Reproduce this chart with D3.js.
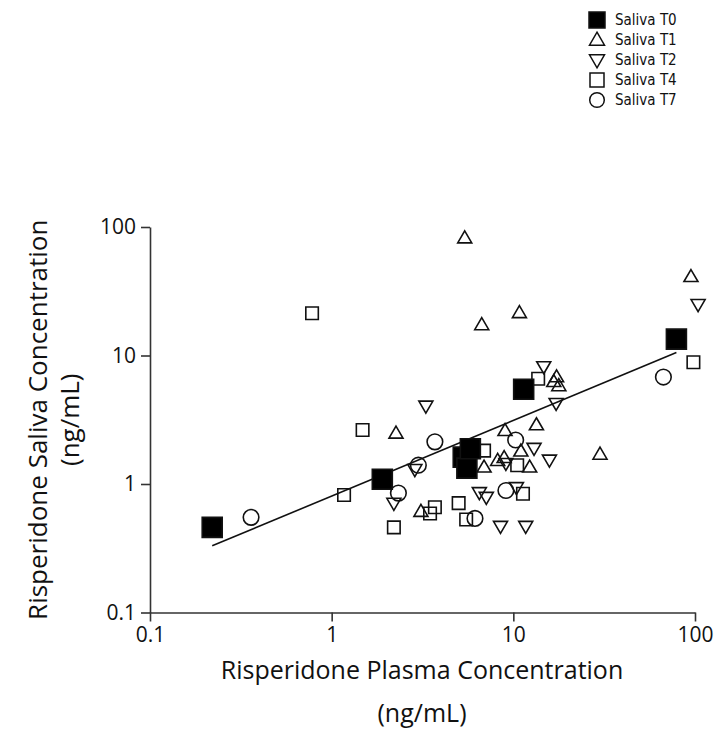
<!DOCTYPE html>
<html>
<head>
<meta charset="utf-8">
<script src="https://cdn.jsdelivr.net/npm/d3@7"></script>
<style>
  body { margin: 0; background: #fff; }
  text { font-family: "Open Sans", Lato, sans-serif; fill: #111; }
  .legend text { font-family: "Liberation Sans Narrow", "DejaVu Sans Condensed", sans-serif; }
</style>
</head>
<body>
<svg width="724" height="749"></svg>
<script>
// values: [plasma, saliva] in ng/mL
const salivaT0 = [[0.22, 0.46], [1.9, 1.09], [5.3, 1.62], [5.55, 1.33], [5.8, 1.88], [11.4, 5.46], [79, 13.4]];
const salivaT1 = [[5.4, 82], [95, 41], [10.8, 21.5], [6.7, 17.3], [16.7, 6.25], [17.3, 6.8], [17.8, 5.8],
  [2.26, 2.48], [3.1, 0.61], [13.4, 2.88], [9.0, 2.6], [11.0, 1.8], [6.9, 1.35], [8.2, 1.52],
  [8.9, 1.6], [12.3, 1.35], [30, 1.7]];
const salivaT2 = [[3.3, 4.05], [104, 25], [14.7, 8.2], [17.2, 4.25], [2.87, 1.3], [2.2, 0.71], [13.0, 1.9],
  [9.1, 1.45], [15.8, 1.54], [6.5, 0.86], [7.1, 0.79], [10.4, 0.94], [8.5, 0.47], [11.7, 0.47]];
const salivaT4 = [[0.78, 21.3], [98, 8.85], [13.7, 6.6], [1.48, 2.63], [1.17, 0.82], [2.2, 0.46], [3.48, 0.59],
  [3.7, 0.66], [6.9, 1.82], [10.5, 1.4], [11.3, 0.84], [5.0, 0.71], [5.5, 0.53]];
const salivaT7 = [[67, 6.8], [0.36, 0.55], [3.7, 2.13], [3.0, 1.4], [2.33, 0.85], [10.3, 2.2], [9.1, 0.89], [6.15, 0.54]];

const seriesNames = ['Saliva T0', 'Saliva T1', 'Saliva T2', 'Saliva T4', 'Saliva T7'];
const tickValues = [0.1, 1, 10, 100];

const svg = d3.select('svg');

const x = d3.scaleLog().domain([0.1, 100]).range([150, 695]);
const y = d3.scaleLog().domain([0.1, 100]).range([612.5, 227]);

// marker shapes
const sq = s => `M${-s/2},${-s/2}h${s}v${s}h${-s}Z`;
const triUp = (w, h) => `M0,${-h*0.6}L${w/2},${h*0.4}L${-w/2},${h*0.4}Z`;
const triDown = (w, h) => `M0,${h*0.6}L${w/2},${-h*0.4}L${-w/2},${-h*0.4}Z`;
const circ = r => `M${r},0A${r},${r} 0 1,1 ${-r},0A${r},${r} 0 1,1 ${r},0Z`;

const series = [
  { data: salivaT0, path: sq(20), fill: '#000', lpath: sq(16) },
  { data: salivaT1, path: triUp(14, 12), fill: 'none', lpath: triUp(15, 13) },
  { data: salivaT2, path: triDown(14, 12), fill: 'none', lpath: triDown(15, 13) },
  { data: salivaT4, path: sq(12.5), fill: 'none', lpath: sq(14) },
  { data: salivaT7, path: circ(7.8), fill: 'none', lpath: circ(7.3) }
];

// axes
const xAxis = svg.append('g')
    .attr('transform', `translate(0, ${y(0.1)})`)
    .call(d3.axisBottom(x).tickValues(tickValues).tickSize(9).tickSizeOuter(0).tickPadding(6)
      .tickFormat(d3.format('~g')));
const yAxis = svg.append('g')
    .attr('transform', `translate(${x(0.1)}, 0)`)
    .call(d3.axisLeft(y).tickValues(tickValues).tickSize(9).tickSizeOuter(0).tickPadding(5)
      .tickFormat(d3.format('~g')));

[xAxis, yAxis].forEach(a => {
  a.select('.domain').attr('stroke', '#333').attr('stroke-width', 1.6);
  a.selectAll('.tick line').attr('stroke', '#333').attr('stroke-width', 1.6);
  a.selectAll('.tick text').style('font-size', '21px').style('font-family', '"Open Sans", sans-serif').attr('fill', '#111');
});

// regression line (log-log) over the T0 points
const lx = salivaT0.map(d => Math.log10(d[0]));
const ly = salivaT0.map(d => Math.log10(d[1]));
const mx = d3.mean(lx), my = d3.mean(ly);
const slope = d3.sum(lx, (v, i) => (v - mx) * (ly[i] - my)) / d3.sum(lx, v => (v - mx) ** 2);
const intercept = my - slope * mx;
const fitX = d3.extent(salivaT0, d => d[0]);

svg.append('path')
    .attr('d', d3.line()(fitX.map(v => [x(v), y(Math.pow(10, intercept + slope * Math.log10(v)))])))
    .attr('stroke', '#111')
    .attr('stroke-width', 1.6)
    .attr('fill', 'none');

// points (open markers first, filled T0 on top)
[1, 2, 3, 4, 0].forEach(i => {
  const s = series[i];
  svg.append('g').selectAll('path')
    .data(s.data)
    .join('path')
      .attr('transform', d => `translate(${x(d[0])}, ${y(d[1])})`)
      .attr('d', s.path)
      .attr('fill', s.fill)
      .attr('stroke', '#111')
      .attr('stroke-width', 1.6);
});

// axis titles
svg.append('text')
    .attr('x', 422).attr('y', 679)
    .attr('text-anchor', 'middle')
    .style('font-size', '25px')
    .text('Risperidone Plasma Concentration');
svg.append('text')
    .attr('x', 422).attr('y', 722)
    .attr('text-anchor', 'middle')
    .style('font-size', '25px')
    .text('(ng/mL)');

const yTitle = svg.append('g')
    .attr('transform', `translate(0, ${(y(0.1) + y(100)) / 2}) rotate(-90)`);
yTitle.append('text')
    .attr('x', 0).attr('y', 47)
    .attr('text-anchor', 'middle')
    .style('font-size', '26px')
    .text('Risperidone Saliva Concentration');
yTitle.append('text')
    .attr('x', 0).attr('y', 79)
    .attr('text-anchor', 'middle')
    .style('font-size', '26px')
    .text('(ng/mL)');

// legend
const legend = svg.append('g').attr('class', 'legend')
    .attr('transform', 'translate(597, 20)');
const rows = legend.selectAll('g')
    .data(seriesNames)
    .join('g')
      .attr('transform', (d, i) => `translate(0, ${i * 20})`);
rows.append('path')
    .attr('d', (d, i) => series[i].lpath)
    .attr('fill', (d, i) => series[i].fill)
    .attr('stroke', '#111')
    .attr('stroke-width', 1.5);
rows.append('text')
    .attr('x', 18).attr('y', 5)
    .style('font-size', '15px')
    .text(d => d);
</script>
</body>
</html>
